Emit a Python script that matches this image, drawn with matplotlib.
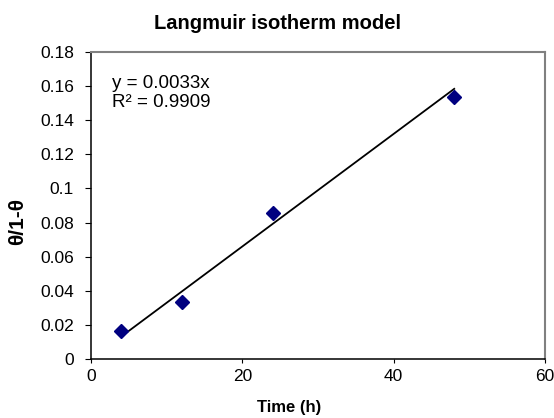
import matplotlib.pyplot as plt
import numpy as np

plt.rcParams['font.family'] = ['Liberation Sans', 'DejaVu Sans']

time_h = [4, 12, 24, 48]
theta_ratio = [0.0165, 0.0337, 0.0856, 0.1537]
slope = 0.0033
r2 = 0.9909

fig = plt.figure(figsize=(5.54, 4.18), dpi=100)
ax = fig.add_axes([0.1643, 0.1411, 0.8195, 0.7345])

xfit = np.array([min(time_h), max(time_h)])
ax.plot(xfit, slope * xfit, color='black', lw=1.3, zorder=2)
ax.plot(time_h, theta_ratio, 'D', color='#000080', markersize=7.5, zorder=3)

ax.set_xlim(0, 60)
ax.set_ylim(0, 0.18)
ax.set_xticks([0, 20, 40, 60])
ax.set_yticks(np.arange(0, 0.181, 0.02))
ax.set_yticklabels(['0', '0.02', '0.04', '0.06', '0.08', '0.1', '0.12', '0.14', '0.16', '0.18'])
ax.tick_params(axis='y', labelsize=12.5, length=4.3, width=0.8, pad=8)
ax.tick_params(axis='x', labelsize=12.5, length=3, width=0.8, pad=4)

for s in ['top', 'right']:
    ax.spines[s].set_color('#808080')
    ax.spines[s].set_linewidth(1.5)
for s in ['left', 'bottom']:
    ax.spines[s].set_color('black')
    ax.spines[s].set_linewidth(1.1)

ax.text(0.047, 0.925, 'y = 0.0033x\nR² = %.4f' % r2, transform=ax.transAxes,
        fontsize=13.5, va='top', ha='left', linespacing=1.15)

fig.text(0.522, 0.024, 'Time (h)', fontsize=12, fontweight='bold', ha='center', va='center')
fig.text(0.031, 0.469, 'θ/1-θ', fontsize=15, fontweight='bold', ha='center', va='center',
         rotation=90)
fig.text(0.5, 0.944, 'Langmuir isotherm model', fontsize=14.5, fontweight='bold',
         ha='center', va='center')

fig.savefig('out.png', dpi=100)
